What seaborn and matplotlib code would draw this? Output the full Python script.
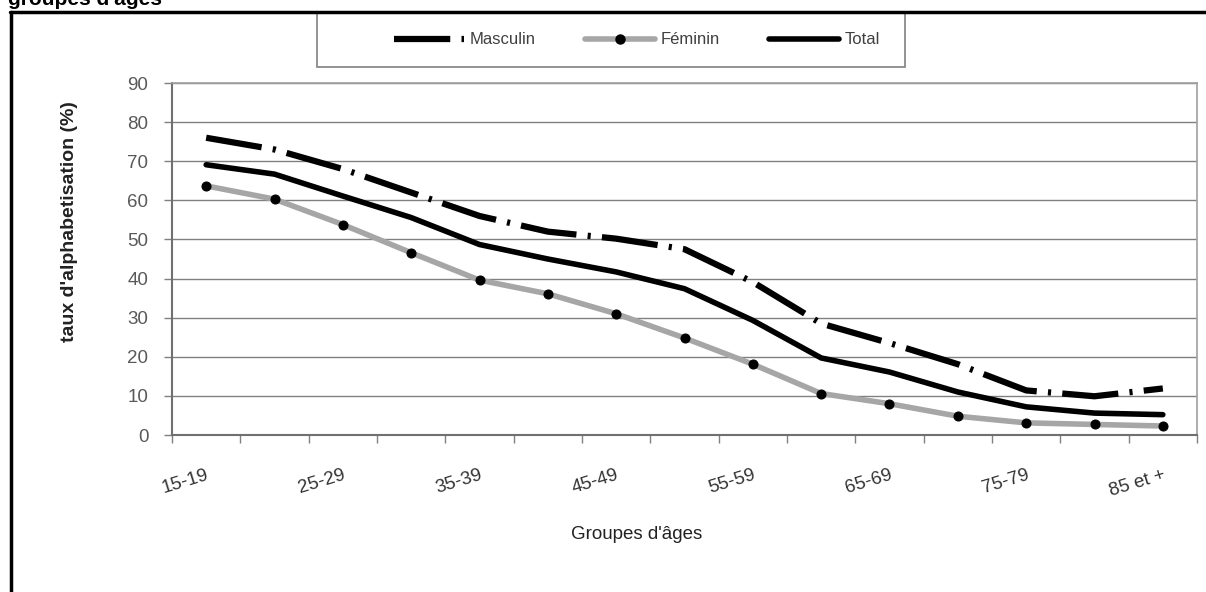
import numpy as np
import pandas as pd
import matplotlib.pyplot as plt
from matplotlib.lines import Line2D
from matplotlib.patches import Rectangle
import seaborn as sns

# Data
groups = ['15-19', '20-24', '25-29', '30-34', '35-39', '40-44', '45-49', '50-54',
          '55-59', '60-64', '65-69', '70-74', '75-79', '80-84', '85 et +']
masculin = [76.0, 73.0, 68.0, 62.0, 56.0, 52.0, 50.2, 47.5, 39.1, 28.5, 23.5, 18.1, 11.4, 9.9, 11.9]
feminin = [63.7, 60.3, 53.8, 46.6, 39.6, 36.1, 31.0, 24.8, 18.1, 10.6, 8.0, 4.8, 3.1, 2.7, 2.3]
total = [69.1, 66.7, 61.1, 55.6, 48.7, 45.0, 41.7, 37.4, 29.3, 19.7, 16.1, 11.0, 7.2, 5.6, 5.2]

df = pd.DataFrame({'groupe': groups, 'Masculin': masculin, 'Féminin': feminin, 'Total': total})
df['pos'] = np.arange(len(groups))

sns.set_theme(style="white")
plt.rcParams['font.family'] = ['Liberation Sans', 'DejaVu Sans']

W, H = 1206, 592
fig = plt.figure(figsize=(W / 100, H / 100), dpi=100)
ax = fig.add_axes([172 / W, 1 - 435 / H, (1197 - 172) / W, (435 - 83) / H])

masc_style = (0, (9, 1.8, 0.5, 1.8))
sns.lineplot(x='pos', y='Masculin', data=df, ax=ax, color='black', lw=4.5,
             linestyle=masc_style, zorder=4)
sns.lineplot(x='pos', y='Féminin', data=df, ax=ax, color='#a6a6a6', lw=4,
             marker='o', markersize=6.5, markerfacecolor='black', markeredgecolor='black', zorder=3)
sns.lineplot(x='pos', y='Total', data=df, ax=ax, color='black', lw=4, zorder=5)

# Axes styling
ax.set_xlim(-0.5, len(groups) - 0.5)
ax.set_ylim(0, 90)
ax.set_yticks(range(0, 91, 10))
ax.yaxis.grid(True, color='#808080', lw=1)
ax.xaxis.grid(False)
ax.set_xticks(np.arange(-0.5, len(groups), 1))
ax.set_xticklabels([])
ax.set_xticks(df['pos'][::2], minor=True)
ax.set_xticklabels(groups[::2], minor=True, rotation=17, ha='right',
                   rotation_mode='anchor', fontsize=13.5, color='#333333')
ax.tick_params(axis='x', which='major', bottom=True, length=6, color='#808080', width=1)
ax.tick_params(axis='x', which='minor', bottom=True, length=0, pad=23)
ax.tick_params(axis='y', left=True, length=6, color='#808080', width=1,
               labelsize=13.5, labelcolor='#595959', pad=11)
for side in ['top', 'right']:
    ax.spines[side].set_color('#a0a0a0')
    ax.spines[side].set_linewidth(1.2)
for side in ['left', 'bottom']:
    ax.spines[side].set_color('#707070')
    ax.spines[side].set_linewidth(1.5)

ax.set_xlabel("Groupes d'âges", fontsize=13.5, color='#222222')
ax.xaxis.set_label_coords((637 - 172) / 1025, (435 - 526) / 352)
ax.set_ylabel("taux d'alphabetisation (%)", fontsize=14, fontweight='bold', color='#222222')
ax.yaxis.set_label_coords((78 - 172) / 1025, (435 - 222) / 352)

# Legend box
fig.add_artist(Rectangle((317 / W, 1 - 67 / H), (905 - 317) / W, (67 - 13) / H,
                         transform=fig.transFigure, fill=False, edgecolor='#808080', lw=1.2))
handles = [
    Line2D([], [], color='black', lw=4.5, linestyle=masc_style),
    Line2D([], [], color='#a6a6a6', lw=4, marker='o', markersize=6.5,
           markerfacecolor='black', markeredgecolor='black', markevery=[1]),
    Line2D([], [], color='black', lw=4),
]
fig.legend(handles, ['Masculin', 'Féminin', 'Total'], loc='center',
           bbox_to_anchor=(637 / W, 1 - 40 / H), ncol=3, frameon=False,
           handlelength=4.2, handletextpad=0.3, columnspacing=3.0,
           prop={'size': 12}, labelcolor='#404040')

# Outer frame (clipped at right and bottom) and cut-off title
fig.add_artist(Line2D([10 / W, 1], [1 - 12 / H, 1 - 12 / H], transform=fig.transFigure,
                      color='black', lw=2.5))
fig.add_artist(Line2D([11 / W, 11 / W], [0, 1 - 12 / H], transform=fig.transFigure,
                      color='black', lw=2.5))
fig.text(8 / W, 1 - 5 / H, "groupes d'âges", fontsize=15, fontweight='bold',
         va='baseline', ha='left', color='black')

fig.savefig('out.png', dpi=100)
